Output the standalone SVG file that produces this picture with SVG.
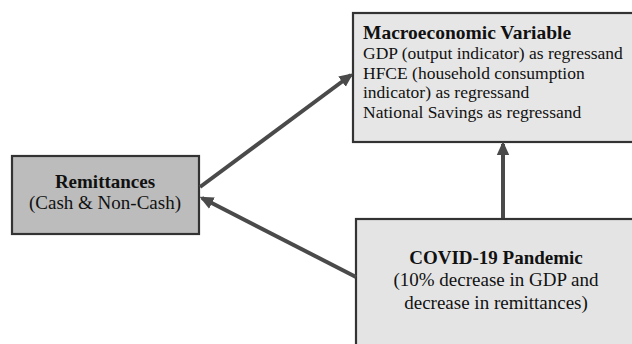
<svg xmlns="http://www.w3.org/2000/svg" width="632" height="344" viewBox="0 0 632 344">
<defs>
<style>
.box{stroke:#333;stroke-width:2.2}
.t{font-family:"Liberation Serif","Times New Roman",serif;font-size:17.5px;fill:#111}
.b{font-weight:bold;font-size:19.5px}
.m{font-size:19px}
.c{text-anchor:middle}
.conn line{stroke:#4a4a4a;stroke-width:4}
</style>
<marker id="ah2" viewBox="0 0 10 10" refX="8" refY="5" markerWidth="14" markerHeight="14" orient="auto" markerUnits="userSpaceOnUse">
<path d="M0,0.5 L10,5 L0,9.5 Z" fill="#4a4a4a"/>
</marker>
</defs>
<rect width="632" height="344" fill="#fff"/>
<g id="macro">
<rect class="box" x="353" y="13" width="290" height="129" fill="#e6e6e6"/>
<text class="t b" x="363" y="39">Macroeconomic Variable</text>
<text class="t" x="363" y="59">GDP (output indicator) as regressand</text>
<text class="t" x="363" y="79">HFCE (household consumption</text>
<text class="t" x="363" y="98">indicator) as regressand</text>
<text class="t" x="363" y="118">National Savings as regressand</text>
</g>
<g id="remittances">
<rect class="box" x="12" y="156" width="187" height="78" fill="#bcbcbc"/>
<text class="t b c m" x="105" y="188">Remittances</text>
<text class="t c m" x="105" y="209">(Cash &amp; Non-Cash)</text>
</g>
<g id="covid">
<rect class="box" x="356" y="219" width="290" height="140" fill="#e4e4e4"/>
<text class="t b c m" x="496" y="264">COVID-19 Pandemic</text>
<text class="t c m" x="496" y="286">(10% decrease in GDP and</text>
<text class="t c m" x="496" y="309">decrease in remittances)</text>
</g>
<g id="connectors" class="conn">
<line x1="200" y1="187" x2="351" y2="75" marker-end="url(#ah2)"/>
<line x1="356" y1="277" x2="202" y2="198" marker-end="url(#ah2)"/>
<line x1="503" y1="218" x2="503" y2="144" marker-end="url(#ah2)"/>
</g>
</svg>
